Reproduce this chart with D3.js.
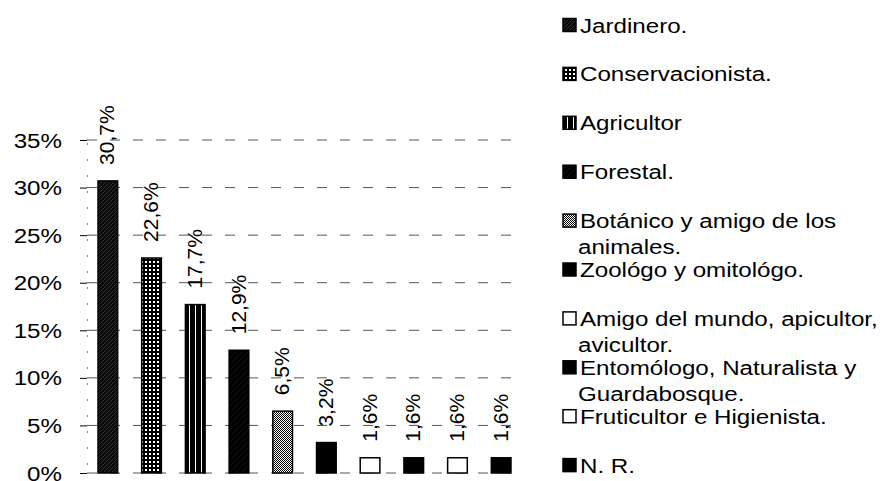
<!DOCTYPE html>
<html>
<head>
<meta charset="utf-8">
<script src="https://cdn.jsdelivr.net/npm/d3@7/dist/d3.min.js"></script>
<style>
  html, body { margin: 0; padding: 0; background: #fff; }
  svg { display: block; }
  text { font-family: "Liberation Sans", Arial, sans-serif; fill: #000; }
</style>
</head>
<body>
<svg id="chart" width="886" height="481"></svg>
<script>
// ---- data ----
const categories = [
  "Jardinero.", "Conservacionista.", "Agricultor", "Forestal.",
  "Botánico y amigo de los animales.", "Zoológo y omitológo.",
  "Amigo del mundo, apicultor, avicultor.", "Entomólogo, Naturalista y Guardabosque.",
  "Fruticultor e Higienista.", "N. R."
];
const legendLines = [
  ["Jardinero."], ["Conservacionista."], ["Agricultor"], ["Forestal."],
  ["Botánico y amigo de los", "animales."], ["Zoológo y omitológo."],
  ["Amigo del mundo, apicultor,", "avicultor."], ["Entomólogo, Naturalista y", "Guardabosque."],
  ["Fruticultor e Higienista."], ["N. R."]
];
const values = [30.7, 22.6, 17.7, 12.9, 6.5, 3.2, 1.6, 1.6, 1.6, 1.6];
const yTicks = [0, 5, 10, 15, 20, 25, 30, 35];

// ---- styles ----
const fills = ["url(#pJard)", "url(#pCons)", "url(#pAgri)", "url(#pFor)", "url(#pBot)",
               "#000", "#fff", "#000", "#fff", "#000"];
const FS = 21, SX = 1.15;

const svg = d3.select("#chart");
const defs = svg.append("defs");

// patterns
const p1 = defs.append("pattern").attr("id", "pJard").attr("patternUnits", "userSpaceOnUse")
  .attr("width", 4).attr("height", 4);
p1.append("rect").attr("width", 4).attr("height", 4).attr("fill", "#0a0a0a");
p1.append("path").attr("d", "M0,4 L4,0").attr("stroke", "#444").attr("stroke-width", 0.7);

const p2 = defs.append("pattern").attr("id", "pCons").attr("patternUnits", "userSpaceOnUse")
  .attr("width", 4).attr("height", 4);
p2.append("rect").attr("width", 4).attr("height", 4).attr("fill", "#000");
p2.append("rect").attr("x", 1).attr("y", 1).attr("width", 2).attr("height", 2).attr("fill", "#fff");

const p3 = defs.append("pattern").attr("id", "pAgri").attr("patternUnits", "userSpaceOnUse")
  .attr("width", 6).attr("height", 6);
p3.append("rect").attr("width", 6).attr("height", 6).attr("fill", "#000");
p3.append("rect").attr("x", 3).attr("width", 1).attr("height", 6).attr("fill", "#fff");

const p4 = defs.append("pattern").attr("id", "pFor").attr("patternUnits", "userSpaceOnUse")
  .attr("width", 6).attr("height", 6);
p4.append("rect").attr("width", 6).attr("height", 6).attr("fill", "#000");
p4.append("path").attr("d", "M0,6 L6,0").attr("stroke", "#222").attr("stroke-width", 0.6);

const p5 = defs.append("pattern").attr("id", "pBot").attr("patternUnits", "userSpaceOnUse")
  .attr("width", 2).attr("height", 2);
p5.append("rect").attr("width", 2).attr("height", 2).attr("fill", "#fff");
p5.append("rect").attr("width", 1).attr("height", 1).attr("fill", "#000");
p5.append("rect").attr("x", 1).attr("y", 1).attr("width", 1).attr("height", 1).attr("fill", "#000");

// scales
const x = d3.scaleBand().domain(categories).range([86, 523])
  .paddingInner(0.55).paddingOuter(0.275);
const y = d3.scaleLinear().domain([0, 35]).range([473, 140]);

const fmt = d3.formatLocale({ decimal: ",", thousands: ".", grouping: [3], currency: ["", "€"] }).format(".1f");

// gridlines
svg.append("g").selectAll("line").data(yTicks).join("line")
  .attr("x1", 87).attr("x2", 523)
  .attr("y1", d => y(d)).attr("y2", d => y(d))
  .attr("stroke", "#555").attr("stroke-width", 1)
  .attr("stroke-dasharray", "10 13");

// y axis
const yAxis = svg.append("g").attr("transform", "translate(87,0)")
  .call(d3.axisLeft(y).tickValues(yTicks).tickSize(7).tickFormat(() => ""));
yAxis.select(".domain").attr("stroke", "#888").attr("stroke-dasharray", "2 14");
yAxis.selectAll(".tick line").attr("stroke", "#000");

svg.append("g").selectAll("g").data(yTicks).join("g")
  .attr("transform", d => `translate(62,${y(d)}) scale(${SX},1)`)
  .append("text")
  .attr("text-anchor", "end").attr("dy", "0.36em")
  .style("font-size", FS + "px")
  .text(d => d + "%");

// bars
svg.append("g").selectAll("rect").data(values).join("rect")
  .attr("x", (d, i) => x(categories[i]))
  .attr("width", x.bandwidth())
  .attr("y", d => y(d))
  .attr("height", d => y(0) - y(d))
  .attr("fill", (d, i) => fills[i])
  .attr("stroke", "#000").attr("stroke-width", 1.5);

// value labels
svg.append("g").selectAll("text").data(values).join("text")
  .attr("transform", (d, i) =>
    `translate(${x(categories[i]) + x.bandwidth() / 2 - 1},${y(d) - 16}) rotate(-90)`)
  .attr("dy", "0.36em")
  .style("font-size", FS + "px")
  .text(d => fmt(d) + "%");

// legend
const legend = svg.append("g");
legendLines.forEach((lines, i) => {
  const cy = 25 + i * 48.9;
  legend.append("rect")
    .attr("x", 563).attr("y", cy - 6.5).attr("width", 13).attr("height", 13)
    .attr("fill", fills[i]).attr("stroke", "#000").attr("stroke-width", 1.5);
  lines.forEach((t, k) => {
    legend.append("g")
      .attr("transform", `translate(${k === 0 ? 580 : 578},${cy + k * 26}) scale(${SX},1)`)
      .append("text")
      .attr("dy", "0.36em")
      .style("font-size", FS + "px")
      .text(t);
  });
});
</script>
</body>
</html>
